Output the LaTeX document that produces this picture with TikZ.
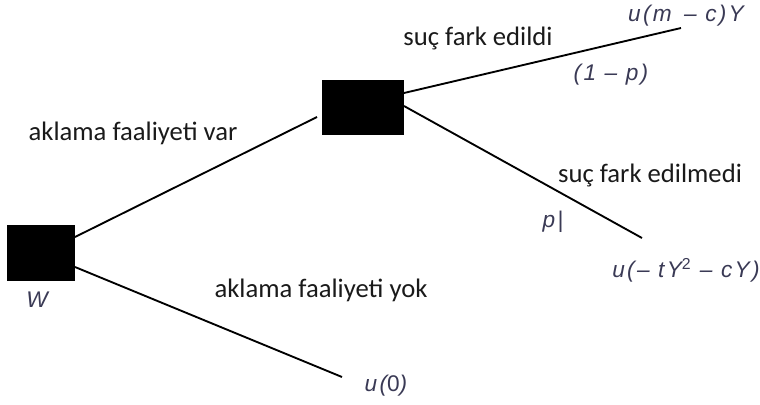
\documentclass[tikz,border=0pt]{standalone}
\usepackage{fontspec}
\setmainfont{Carlito}
\newfontfamily\arialfam[LetterSpace=10]{Liberation Sans}
\definecolor{mtxt}{HTML}{3A3A55}
\definecolor{ltxt}{HTML}{1A1A1A}
\begin{document}
\begin{tikzpicture}[x=0.75pt,y=-0.75pt,
  lbl/.style={text=ltxt,font=\fontsize{20}{24}\selectfont,inner sep=0pt},
  mlbl/.style={text=mtxt,font=\arialfam\itshape\fontsize{17}{20}\selectfont,inner sep=0pt},
  edge/.style={line width=1.4pt,black}]
\useasboundingbox (0,0) rectangle (760,404);
\fill[black] (7,225) rectangle (75,281);
\fill[black] (322,80) rectangle (404,135);
\coordinate (a1) at (75,237);
\coordinate (a2) at (75,267);
\coordinate (b1) at (317,117);
\coordinate (b2) at (342,377);
\coordinate (m1) at (404,93);
\coordinate (m2) at (404,106);
\coordinate (c1) at (681,28);
\coordinate (c2) at (642,238);
\draw[edge] (a1) -- (b1);
\draw[edge] (a2) -- (b2);
\draw[edge] (m1) -- (c1);
\draw[edge] (m2) -- (c2);
\node[lbl] (l1) at (133,133) {aklama faaliyeti var};
\node[lbl] (l2) at (321,290) {aklama faaliyeti yok};
\node[lbl] (l3) at (478,38) {suç fark edildi};
\node[lbl] (l4) at (650,175) {suç fark edilmedi};
\node[mlbl] (r1) at (686,16) {u(m \,– c)Y};
\node[mlbl] (q1) at (611,75) {(1 – p)};
\node[mlbl] (q2) at (553,222) {p|};
\node[mlbl] (r2) at (686,270) {u(– tY\textsuperscript{\upshape 2} – cY)};
\node[mlbl] (w) at (37,300) {W};
\node[mlbl] (r3) at (386,386) {u(\upshape 0\itshape)};
\end{tikzpicture}
\end{document}
